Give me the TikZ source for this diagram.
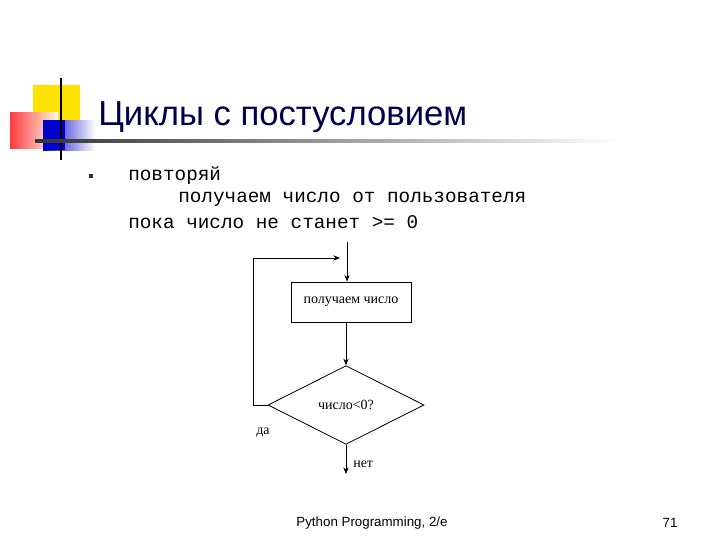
\documentclass[tikz,border=0pt]{standalone}
\usepackage{fontspec}
\setmainfont{Liberation Serif}
\newfontfamily\sansf{Liberation Sans}
\newfontfamily\monof{Liberation Mono}
\usetikzlibrary{shapes.geometric,arrows.meta}
\begin{document}
\begin{tikzpicture}[x=0.75pt,y=-0.75pt,
  ln/.style={draw=black,line width=0.6pt},
  arr/.style={ln,-{Stealth[length=5pt,width=4pt]}},
  mono/.style={font=\monof\fontsize{14.5}{16}\selectfont,anchor=west,inner sep=0},
  fc/.style={font=\fontsize{10.5}{12}\selectfont}]
\useasboundingbox (0,0) rectangle (720,540);
\fill[white] (0,0) rectangle (720,540);
% decoration
\fill[yellow!85!orange] (33,85) rectangle (80,128);
\shade[left color=red!85, right color=white, opacity=0.9] (10,112) rectangle (58,148);
\shade[left color=blue!80!black, right color=white] (43,120) rectangle (95,150);
\fill[blue!80!black] (43,120) rectangle (65,150);
\draw[line width=1.5pt] (61,78) -- (61,160);
\shade[left color=black!80, right color=white] (35,139.5) rectangle (620,142);
% title
\node[anchor=west,inner sep=0,text=blue!30!black,font=\sansf\fontsize{26}{30}\selectfont] (title) at (98,117) {Циклы с постусловием};
% bullet text
\node[fill=black!80,minimum size=3.5pt,inner sep=0] (bul) at (91,176) {};
\node[mono] (l1) at (128,176) {повторяй};
\node[mono] (l2) at (178,199) {получаем число от пользователя};
\node[mono] (l3) at (128,222) {пока число не станет >= 0};
% flowchart
\coordinate (top) at (347,242);
\node[draw,line width=0.6pt,minimum width=90pt,minimum height=30pt,fc] (box) at (351,302) {получаем число};
\node[draw,diamond,aspect=2,line width=0.6pt,minimum width=117pt,minimum height=59pt,inner sep=0,fc] (dec) at (346,405) {число<0?};
\draw[arr] (top) -- (top|-box.north);
\draw[arr] (box.south-|dec.north) -- (dec.north);
\coordinate (lt) at (253,258);
\draw[arr] (dec.west) -- (lt|-dec.west) -- (lt) -- (340,258);
\coordinate (bot) at (346,474);
\draw[arr] (dec.south) -- (bot);
\node[fc,anchor=west,inner sep=0] (yes) at (256,433) {да};
\node[fc,anchor=west,inner sep=0] (no) at (353,464) {нет};
% footer
\node[font=\sansf\fontsize{10}{12}\selectfont,inner sep=0] (foot) at (372,523) {Python Programming, 2/e};
\node[font=\sansf\fontsize{10}{12}\selectfont,inner sep=0] (pg) at (670,523) {71};
\end{tikzpicture}
\end{document}
